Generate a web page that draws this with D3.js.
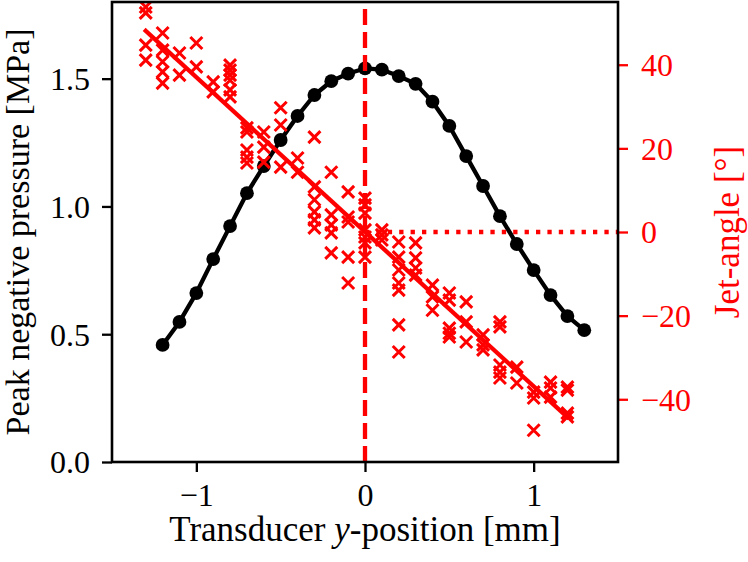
<!DOCTYPE html>
<html>
<head>
<meta charset="utf-8">
<script src="https://cdn.jsdelivr.net/npm/d3@7"></script>
<style>
  html, body { margin: 0; padding: 0; background: #fff; }
  svg { display: block; }
  text { font-family: "Liberation Serif", "Times New Roman", serif; }
</style>
</head>
<body>
<svg id="chart" width="748" height="562"></svg>
<script>
// ---- data ----
const pressX = [-1.2, -1.1, -1.0, -0.9, -0.8, -0.7, -0.6, -0.5, -0.4, -0.3, -0.2, -0.1, 0.0,
                0.1, 0.2, 0.3, 0.4, 0.5, 0.6, 0.7, 0.8, 0.9, 1.0, 1.1, 1.2, 1.3];
const pressure = [0.458, 0.548, 0.661, 0.794, 0.923, 1.052, 1.158, 1.26, 1.354, 1.436, 1.49, 1.52, 1.54,
                  1.535, 1.51, 1.48, 1.41, 1.315, 1.197, 1.08, 0.962, 0.853, 0.751, 0.653, 0.571, 0.516];

const jetX = [
  -1.3, -1.3, -1.3, -1.3,
  -1.2, -1.2, -1.2, -1.2, -1.2,
  -1.1, -1.1,
  -1.0, -1.0,
  -0.9, -0.9,
  -0.8, -0.8, -0.8, -0.8, -0.8, -0.8,
  -0.7, -0.7, -0.7, -0.7, -0.7,
  -0.6, -0.6, -0.6,
  -0.5, -0.5, -0.5,
  -0.4, -0.4,
  -0.3, -0.3, -0.3, -0.3, -0.3, -0.3,
  -0.2, -0.2, -0.2, -0.2, -0.2,
  -0.1, -0.1, -0.1, -0.1, -0.1,
  0.0, 0.0, 0.0, 0.0, 0.0, 0.0, 0.0,
  0.1, 0.1, 0.1,
  0.2, 0.2, 0.2, 0.2, 0.2, 0.2, 0.2,
  0.3, 0.3, 0.3, 0.3,
  0.4, 0.4, 0.4,
  0.5, 0.5, 0.5, 0.5, 0.5,
  0.6, 0.6, 0.6,
  0.7, 0.7, 0.7,
  0.8, 0.8, 0.8, 0.8, 0.8,
  0.9, 0.9,
  1.0, 1.0, 1.0,
  1.1, 1.1, 1.1,
  1.2, 1.2, 1.2, 1.2
];
const jetAngle = [
  53.8, 52.4, 44.7, 41.1,
  47.6, 43.5, 40.7, 38.3, 35.6,
  42.8, 37.5,
  45.2, 39.5,
  35.9, 33.5,
  39.9, 38.7, 37.5, 36.3, 34.0, 32.3,
  24.9, 23.9, 19.6, 17.9, 16.5,
  23.9, 20.3, 16.7,
  29.7, 25.6, 15.5,
  17.7, 14.3,
  22.7, 10.8, 7.7, 4.8, 2.9, 1.0,
  14.3, 4.1, 1.7, -0.2, -5.0,
  9.6, 3.6, 2.4, -6.0, -12.2,
  8.1, 6.5, 4.5, 0.5, -1.2, -2.6, -6.0,
  0.5, -0.7, -1.9,
  -2.4, -6.0, -9.1, -12.2, -13.9, -22.2, -28.7,
  -2.6, -6.2, -8.6, -10.3,
  -12.7, -15.5, -18.7,
  -14.6, -16.3, -23.0, -24.2, -25.1,
  -16.7, -21.5, -26.3,
  -24.6, -27.0, -28.2,
  -21.5, -22.7, -31.8, -33.5, -34.9,
  -32.3, -36.1,
  -38.3, -39.7, -47.4,
  -35.9, -37.3, -39.5,
  -37.1, -37.8, -43.3, -44.2
];

const fitX = [-1.3, 1.2];
const fitAngle = [48.1, -44.3];

const xTicks = [-1, 0, 1];
const yLeftTicks = [0, 0.5, 1.0, 1.5];
const yRightTicks = [-40, -20, 0, 20, 40];

const xDomain = [-1.5, 1.5];
const yLeftDomain = [0, 1.8];
const yRightDomain = [-55, 55];

// ---- layout ----
const L = 112, R = 618, T = 2, B = 462;
const RED = "#ff0000";
const svg = d3.select("#chart");

const x = d3.scaleLinear().domain(xDomain).range([L, R]);
const yL = d3.scaleLinear().domain(yLeftDomain).range([B, T]);
const yR = d3.scaleLinear().domain(yRightDomain).range([B, T]);

svg.append("clipPath").attr("id", "clip")
  .append("rect").attr("x", L).attr("y", T).attr("width", R - L).attr("height", B - T);
const plot = svg.append("g").attr("clip-path", "url(#clip)");

// black pressure curve
const pData = pressX.map((v, i) => [v, pressure[i]]);
plot.append("path")
  .datum(pData)
  .attr("fill", "none")
  .attr("stroke", "#000")
  .attr("stroke-width", 4.3)
  .attr("stroke-linejoin", "round")
  .attr("d", d3.line().x(d => x(d[0])).y(d => yL(d[1])));
plot.selectAll("circle.p")
  .data(pData).enter().append("circle")
  .attr("class", "p")
  .attr("cx", d => x(d[0])).attr("cy", d => yL(d[1]))
  .attr("r", 6.9).attr("fill", "#000");

// red: dashed vertical at x=0
plot.append("line")
  .attr("x1", x(0)).attr("x2", x(0))
  .attr("y1", B).attr("y2", T)
  .attr("stroke", RED).attr("stroke-width", 4.3)
  .attr("stroke-dasharray", "16,7");

// red dotted horizontal at 0 deg from x=0 to right
plot.append("line")
  .attr("x1", x(0)).attr("x2", x(xDomain[1]))
  .attr("y1", yR(0)).attr("y2", yR(0))
  .attr("stroke", RED).attr("stroke-width", 4.3)
  .attr("stroke-dasharray", "4.3,7.1");

// scatter crosses
const jData = jetX.map((v, i) => [v, jetAngle[i]]);
const s = 6.0;
plot.selectAll("path.x")
  .data(jData).enter().append("path")
  .attr("class", "x")
  .attr("d", d => {
    const cx = x(d[0]), cy = yR(d[1]);
    return `M${cx - s},${cy - s}L${cx + s},${cy + s}M${cx - s},${cy + s}L${cx + s},${cy - s}`;
  })
  .attr("stroke", RED).attr("stroke-width", 3.0).attr("fill", "none");

// fit line
plot.append("path")
  .datum(fitX.map((v, i) => [v, fitAngle[i]]))
  .attr("fill", "none")
  .attr("stroke", RED)
  .attr("stroke-width", 4.3)
  .attr("stroke-linecap", "square")
  .attr("d", d3.line().x(d => x(d[0])).y(d => yR(d[1])));

// ---- axes ----
const fmtL = d3.format(".1f");
const fmtN = v => (v < 0 ? "\u2212" + Math.abs(v) : String(v));

const gx = svg.append("g").attr("transform", `translate(0,${B})`)
  .call(d3.axisBottom(x).tickValues(xTicks).tickSize(10).tickPadding(10).tickFormat(fmtN));
const gyl = svg.append("g").attr("transform", `translate(${L},0)`)
  .call(d3.axisLeft(yL).tickValues(yLeftTicks).tickSize(10).tickPadding(12).tickFormat(fmtL));
const gyr = svg.append("g").attr("transform", `translate(${R},0)`)
  .call(d3.axisRight(yR).tickValues(yRightTicks).tickSize(10).tickPadding(13).tickFormat(fmtN));

[gx, gyl, gyr].forEach(g => {
  g.select(".domain").remove();
  g.selectAll(".tick line").attr("stroke-width", 2.3);
  g.selectAll(".tick text").attr("font-family", "Liberation Serif, serif").attr("font-size", 32);
});
gx.selectAll(".tick line").attr("stroke", "#000");
gx.selectAll(".tick text").attr("fill", "#000").attr("dy", "0.74em");
gyl.selectAll(".tick line").attr("stroke", "#000");
gyl.selectAll(".tick text").attr("fill", "#000").attr("dy", "0.34em");
gyr.selectAll(".tick line").attr("stroke", RED);
gyr.selectAll(".tick text").attr("fill", RED).attr("dy", "0.34em");

// frame
svg.append("rect")
  .attr("x", L).attr("y", T).attr("width", R - L).attr("height", B - T)
  .attr("fill", "none").attr("stroke", "#000").attr("stroke-width", 2.6);

// axis labels
const xl = svg.append("text")
  .attr("x", (L + R) / 2).attr("y", 541)
  .attr("text-anchor", "middle")
  .attr("font-size", 35).attr("fill", "#000");
xl.append("tspan").text("Transducer ");
xl.append("tspan").attr("font-style", "italic").text("y");
xl.append("tspan").text("-position [mm]");

svg.append("text")
  .attr("transform", `translate(29,${(T + B) / 2}) rotate(-90)`)
  .attr("text-anchor", "middle")
  .attr("font-size", 34).attr("fill", "#000")
  .text("Peak negative pressure [MPa]");

svg.append("text")
  .attr("transform", `translate(739,${(T + B) / 2}) rotate(-90)`)
  .attr("text-anchor", "middle")
  .attr("font-size", 35).attr("fill", RED)
  .text("Jet-angle [\u00B0]");
</script>
</body>
</html>
